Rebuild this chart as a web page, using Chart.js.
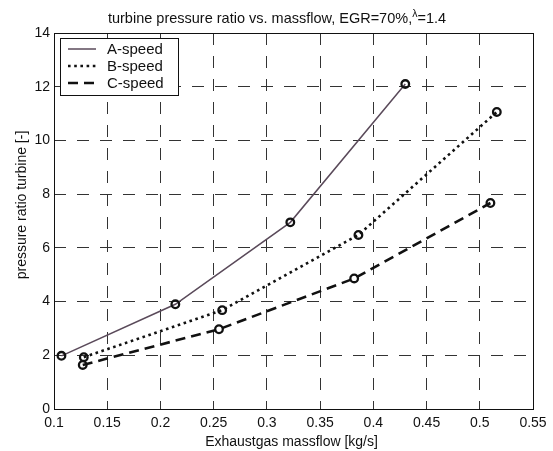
<!DOCTYPE html>
<html>
<head>
<meta charset="utf-8">
<title>turbine pressure ratio</title>
<script src="https://cdn.jsdelivr.net/npm/chart.js@4/dist/chart.umd.min.js"></script>
<style>
  html, body { margin: 0; padding: 0; background: #fff; }
  #wrap { width: 553px; height: 451px; }
</style>
</head>
<body>
<div id="wrap"><canvas id="mycanvas" width="553" height="451"></canvas></div>
<script>
// measured points, massflow [kg/s] / pressure ratio [-]
var speedNames = ['A-speed', 'B-speed', 'C-speed'];
var massA = [0.107, 0.214, 0.322, 0.430];
var ratioA = [1.98, 3.90, 6.95, 12.10];
var massB = [0.128, 0.258, 0.386, 0.516];
var ratioB = [1.93, 3.68, 6.48, 11.06];
var massC = [0.127, 0.255, 0.382, 0.510];
var ratioC = [1.64, 2.97, 4.86, 7.67];
var xTicks = [0.1, 0.15, 0.2, 0.25, 0.3, 0.35, 0.4, 0.45, 0.5, 0.55];
var yTicks = [0, 2, 4, 6, 8, 10, 12, 14];

var FONT = '"Liberation Sans", Arial, sans-serif';

function pairs(xs, ys) {
  var out = [];
  for (var i in xs) {
    out.push({ x: xs[i], y: ys[i] });
  }
  return out;
}

var lineStyles = [
  { color: '#5a4a5a', width: 1.5, dash: [] },
  { color: '#111111', width: 2.6, dash: [2.6, 3.6] },
  { color: '#111111', width: 2.6, dash: [10, 6] }
];

function makeSet(i, xs, ys) {
  var s = lineStyles[i];
  return {
    label: speedNames[i],
    data: pairs(xs, ys),
    borderColor: s.color,
    borderWidth: s.width,
    borderDash: s.dash,
    tension: 0,
    pointRadius: 3.8,
    pointBorderWidth: 2.3,
    pointBorderColor: '#111',
    pointBackgroundColor: 'rgba(0,0,0,0)'
  };
}

// white page, frame, titles and an inset legend
var decor = {
  id: 'decor',
  beforeDraw: function(chart) {
    var ctx = chart.ctx;
    ctx.save();
    ctx.fillStyle = '#fff';
    ctx.fillRect(0, 0, chart.width, chart.height);
    ctx.restore();
  },
  afterDraw: function(chart) {
    var ctx = chart.ctx;
    var a = chart.chartArea;
    ctx.save();
    ctx.strokeStyle = '#111';
    ctx.lineWidth = 1;
    ctx.setLineDash([]);
    ctx.strokeRect(Math.round(a.left) + 0.5, Math.round(a.top) + 0.5,
      Math.round(a.right - a.left), Math.round(a.bottom - a.top));

    // title with raised lambda
    ctx.fillStyle = '#111';
    ctx.textBaseline = 'middle';
    ctx.textAlign = 'left';
    var part1 = 'turbine pressure ratio vs. massflow, EGR=70%,';
    var part2 = '\u03bb';
    var part3 = '=1.4';
    ctx.font = '14.5px ' + FONT;
    var w1 = ctx.measureText(part1).width;
    var w3 = ctx.measureText(part3).width;
    ctx.font = '10.5px ' + FONT;
    var w2 = ctx.measureText(part2).width;
    var tx = 277 - (w1 + w2 + w3) / 2;
    ctx.font = '14.5px ' + FONT;
    ctx.fillText(part1, tx, 19);
    ctx.font = '10.5px ' + FONT;
    ctx.fillText(part2, tx + w1, 14);
    ctx.font = '14.5px ' + FONT;
    ctx.fillText(part3, tx + w1 + w2, 19);

    // axis titles
    ctx.font = '14px ' + FONT;
    ctx.textAlign = 'center';
    ctx.fillText('Exhaustgas massflow [kg/s]', (a.left + a.right) / 2 - 2, 442);
    ctx.translate(22, 205);
    ctx.rotate(-Math.PI / 2);
    ctx.fillText('pressure ratio turbine [-]', 0, 0);
    ctx.restore();

    // legend box
    ctx.save();
    var bx = 60, by = 38, bw = 118, bh = 57;
    ctx.fillStyle = '#fff';
    ctx.fillRect(bx, by, bw, bh);
    ctx.strokeStyle = '#111';
    ctx.lineWidth = 1;
    ctx.strokeRect(bx + 0.5, by + 0.5, bw, bh);
    var rows = [49, 66, 83];
    ctx.font = '15px ' + FONT;
    ctx.textBaseline = 'middle';
    ctx.textAlign = 'left';
    for (var i = 0; i < rows.length; i++) {
      var s = lineStyles[i];
      ctx.strokeStyle = s.color;
      ctx.lineWidth = s.width;
      ctx.setLineDash(s.dash);
      ctx.beginPath();
      ctx.moveTo(68, rows[i]);
      ctx.lineTo(96, rows[i]);
      ctx.stroke();
      ctx.fillStyle = '#111';
      ctx.fillText(speedNames[i], 107, rows[i] + 1);
    }
    ctx.restore();
  }
};

var ctx = document.getElementById('mycanvas');

var chart = new Chart(ctx, {
  type: 'line',
  data: {
    datasets: [
      makeSet(0, massA, ratioA),
      makeSet(1, massB, ratioB),
      makeSet(2, massC, ratioC)
    ]
  },
  options: {
    responsive: false,
    animation: false,
    layout: { padding: { top: 33, right: 20, left: 0, bottom: 0 } },
    plugins: {
      legend: { display: false },
      title: { display: false },
      tooltip: { enabled: false }
    },
    scales: {
      x: {
        type: 'linear',
        min: 0.1,
        max: 0.55,
        afterFit: function(scale) { scale.height = 42; },
        afterBuildTicks: function(scale) {
          scale.ticks = xTicks.map(function(v) { return { value: v }; });
        },
        ticks: {
          padding: 6,
          color: '#111',
          font: { family: FONT, size: 14 },
          maxRotation: 0,
          autoSkip: false,
          callback: function(v) { return String(Math.round(v * 100) / 100); }
        },
        grid: { color: '#333', lineWidth: 1, drawTicks: false },
        border: { display: false, dash: [12, 11] }
      },
      y: {
        min: 0,
        max: 14,
        afterFit: function(scale) { scale.width = 54; },
        afterBuildTicks: function(scale) {
          scale.ticks = yTicks.map(function(v) { return { value: v }; });
        },
        ticks: {
          padding: 4,
          color: '#111',
          font: { family: FONT, size: 14 },
          autoSkip: false
        },
        grid: { color: '#333', lineWidth: 1, drawTicks: false },
        border: { display: false, dash: [12, 11] }
      }
    }
  },
  plugins: [decor]
});
</script>
</body>
</html>
